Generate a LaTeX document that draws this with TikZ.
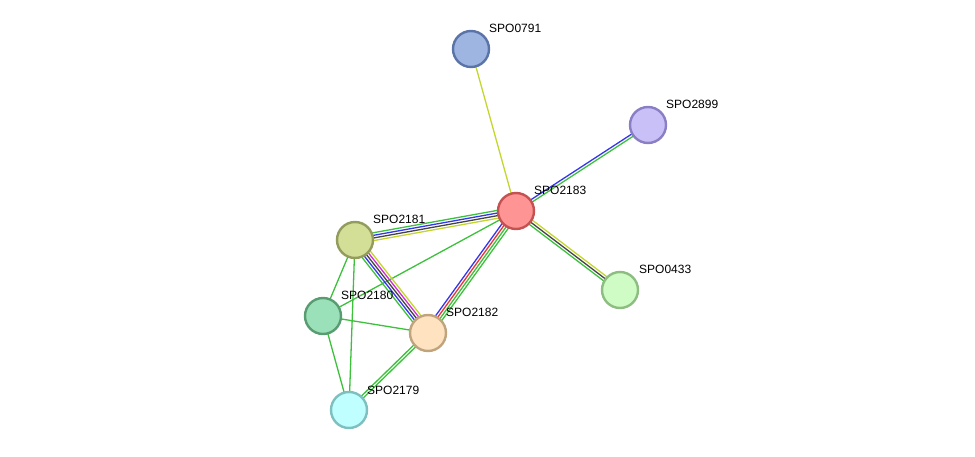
\documentclass[tikz,border=0pt]{standalone}
\usepackage{fontspec}
\setmainfont{Liberation Sans}
\usetikzlibrary{calc,backgrounds}
\definecolor{eg}{HTML}{3DC13D}
\definecolor{ey}{HTML}{C4D62E}
\definecolor{eb}{HTML}{3535EE}
\definecolor{ek}{HTML}{444444}
\definecolor{er}{HTML}{EE3333}
\definecolor{em}{HTML}{D030D0}
\definecolor{fa}{HTML}{9DB5E0}\definecolor{da}{HTML}{5B74A8}
\definecolor{fb}{HTML}{C9C0F8}\definecolor{db}{HTML}{8A7EC4}
\definecolor{fc}{HTML}{FF9494}\definecolor{dc}{HTML}{C45252}
\definecolor{fd}{HTML}{D3DE97}\definecolor{dd}{HTML}{939C5C}
\definecolor{fe}{HTML}{CEFCC4}\definecolor{de}{HTML}{8EBD82}
\definecolor{ff}{HTML}{9AE0B8}\definecolor{df}{HTML}{5A9C72}
\definecolor{fg}{HTML}{FFE2C0}\definecolor{dg}{HTML}{BFA47E}
\definecolor{fh}{HTML}{C0FFFF}\definecolor{dh}{HTML}{7EBFBF}
\tikzset{
  prot/.style n args={2}{circle,minimum size=36pt,inner sep=0pt,line width=2.4pt,fill=#1,draw=#2},
  lab/.style={anchor=west,font=\fontsize{12}{14}\selectfont,inner sep=0pt},
  edge/.style={line width=1.3pt}
}
\newcommand{\myedge}[3]{%
  \foreach \c [count=\i] in {#3} {\xdef\mycount{\i}}%
  \foreach \c [count=\i] in {#3} {%
    \pgfmathsetmacro{\off}{(\i-(\mycount+1)/2)*2.6}%
    \draw[edge,\c] ($(#1)!\off pt!90:(#2)$) -- ($(#2)!\off pt!-90:(#1)$);%
  }}
\begin{document}
\begin{tikzpicture}[x=1pt,y=-1pt]
\useasboundingbox (0,0) rectangle (975,457);
\node[prot={fa}{da}] (n0791) at (471,49) {};
\node[prot={fb}{db}] (n2899) at (648,125) {};
\node[prot={fc}{dc}] (n2183) at (516,211) {};
\node[prot={fd}{dd}] (n2181) at (355,240) {};
\node[prot={fe}{de}] (n0433) at (620,290) {};
\node[prot={ff}{df}] (n2180) at (323,316) {};
\node[prot={fg}{dg}] (n2182) at (428,333) {};
\node[prot={fh}{dh}] (n2179) at (349,410) {};
\node[lab] (l0791) at (489,28) {SPO0791};
\node[lab] (l2899) at (666,104) {SPO2899};
\node[lab] (l2183) at (534,190) {SPO2183};
\node[lab] (l2181) at (373,219) {SPO2181};
\node[lab] (l0433) at (639,269) {SPO0433};
\node[lab] (l2180) at (341,295) {SPO2180};
\node[lab] (l2182) at (446,312) {SPO2182};
\node[lab] (l2179) at (367,390) {SPO2179};
\begin{scope}[on background layer]
\myedge{n2183}{n0791}{ey}
\myedge{n2183}{n2899}{eg,eb}
\myedge{n2181}{n2183}{ey,ek,eb,eg}
\myedge{n2183}{n0433}{eg,ek,ey}
\myedge{n2182}{n2183}{eg,eg,er,eb}
\myedge{n2180}{n2183}{eg}
\myedge{n2182}{n2181}{ey,em,ek,eb,eg}
\myedge{n2181}{n2180}{eg}
\myedge{n2181}{n2179}{eg}
\myedge{n2180}{n2182}{eg}
\myedge{n2180}{n2179}{eg}
\myedge{n2182}{n2179}{eg,eg}
\end{scope}
\end{tikzpicture}
\end{document}
